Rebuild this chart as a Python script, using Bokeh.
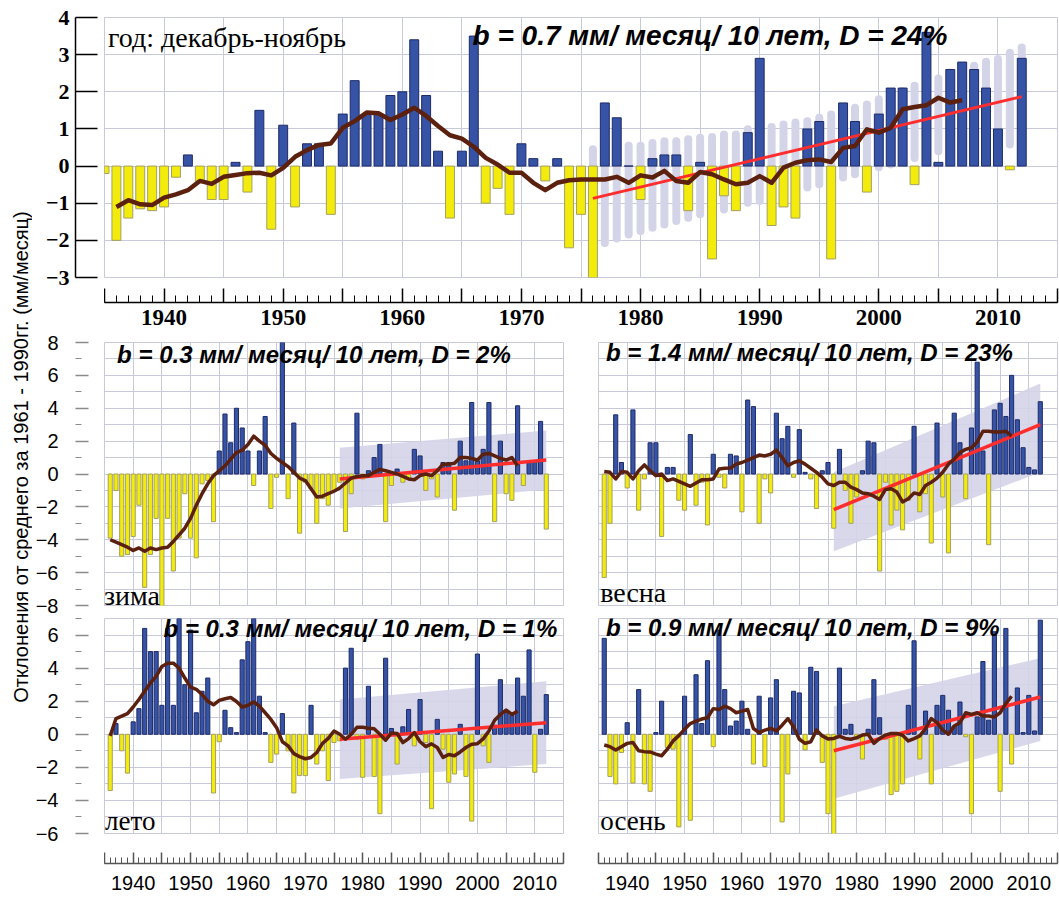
import math
from bokeh.plotting import figure
from bokeh.models import Range1d, FixedTicker, Label, Grid
from bokeh.layouts import row, column
from bokeh.embed import file_html
from bokeh.resources import INLINE
from bokeh.core.properties import value

# ---------------- data ----------------
years_annual = list(range(1935, 2013))
years_season = list(range(1936, 2013))
years_mean = list(range(1936, 2008))
years_trend = [1976, 2012]
years_band_annual = list(range(1976, 2013))
years_band_season = [1976, 2012]

annual = [-0.2, -2.0, -1.4, -1.15, -1.2, -1.1, -0.3, 0.3, -0.4, -0.9,
          -0.9, 0.1, -0.7, 1.5, -1.7, 1.1, -1.1, 0.6, 0.6, -1.3,
          1.4, 2.3, 1.4, 1.4, 1.9, 2.0, 3.4, 1.9, 0.4, -1.4,
          0.4, 3.5, -1.0, -0.6, -1.3, 0.6, 0.2, -0.4, 0.2, -2.2,
          -1.3, -3.0, 1.7, 1.3, 0.0, -0.9, 0.2, 0.3, 0.3, -1.2,
          0.1, -2.5, -0.8, -1.2, 0.9, 2.9, -1.6, -1.1, -1.4, 1.0,
          1.2, -2.5, 1.7, 1.2, -0.7, 1.4, 2.1, 2.1, -0.5, 3.6,
          0.1, 2.6, 2.8, 2.6, 2.1, 1.0, -0.1, 2.9]
annual_mean = [-1.1, -0.92, -1.03, -1.05, -0.85, -0.76, -0.65, -0.4, -0.48, -0.29,
               -0.24, -0.19, -0.18, -0.25, -0.05, 0.25, 0.43, 0.57, 0.61, 1.03,
               1.21, 1.44, 1.42, 1.24, 1.39, 1.57, 1.35, 1.08, 0.83, 0.74,
               0.52, 0.22, 0.04, -0.18, -0.18, -0.45, -0.65, -0.45, -0.38, -0.36,
               -0.36, -0.36, -0.29, -0.45, -0.25, -0.31, -0.13, -0.4, -0.45, -0.16,
               -0.22, -0.36, -0.49, -0.45, -0.27, -0.45, -0.04, 0.09, 0.16, 0.18,
               0.11, 0.49, 0.54, 0.99, 0.9, 1.03, 1.53, 1.59, 1.64, 1.84,
               1.71, 1.77]
annual_trend = [-0.87, 1.87]
annual_band_lo = [-2.02, -2.07, -1.95, -1.84, -1.75, -1.66, -1.57, -1.48, -1.39, -1.3,
                  -1.21, -1.17, -1.1, -0.99, -0.94, -0.85, -0.76, -0.66, -0.58, -0.49,
                  -0.4, -0.31, -0.22, -0.12, -0.03, 0.04, 0.13, 0.22, 0.31, 0.4,
                  0.49, 0.58, 0.63, 0.67, 0.63, 0.58, 0.5]
annual_band_hi = [0.45, 0.55, 0.6, 0.55, 0.55, 0.62, 0.67, 0.67, 0.72, 0.76,
                  0.78, 0.85, 0.85, 0.99, 1.03, 1.05, 1.12, 1.17, 1.21, 1.3,
                  1.39, 1.44, 1.57, 1.66, 1.8, 1.89, 2.02, 2.16, 2.25, 2.36,
                  2.52, 2.61, 2.7, 2.81, 2.88, 3.05, 3.19]

winter = [-3.9, -1.0, -5.0, -4.9, -3.8, -1.9, -6.9, -4.9, -2.7, -9.7,
          -2.7, -5.9, -3.9, -1.2, -3.9, -5.1, -0.6, -0.4, -2.9, 1.4,
          3.65, 1.9, 4.0, 2.8, 1.4, -0.7, 1.4, 3.5, -2.1, -0.2,
          8.4, -1.5, 3.1, -3.6, -0.5, -0.9, -3.0, -1.5, -1.9, -1.0,
          -0.5, -3.5, -1.2, 3.7, -0.3, 0.2, 1.0, 1.8, -2.9, -0.7,
          0.3, -0.5, -0.3, 1.5, 1.1, -1.0, -0.3, -1.4, 0.7, 0.7,
          -2.2, 2.0, 0.8, 4.35, 0.8, 1.5, 4.35, -2.9, 2.0, -1.2,
          -1.6, 4.15, -0.7, 0.8, 0.8, 3.2, -3.35]
winter_mean = [-4.0, -4.15, -4.3, -4.45, -4.65, -4.5, -4.7, -4.5, -4.6, -4.5,
               -4.45, -4.1, -3.7, -3.3, -2.7, -1.9, -1.2, -0.6, -0.1, 0.2,
               0.5, 0.9, 1.3, 1.45, 1.8, 2.3, 2.0, 1.75, 1.25, 0.95,
               0.7, 0.45, 0.1, -0.25, -0.4, -0.9, -1.4, -1.35, -1.2, -1.05,
               -0.85, -0.55, -0.25, -0.15, -0.1, -0.1, 0.1, 0.28, 0.2, 0.1,
               0.0, -0.15, -0.3, -0.35, -0.1, 0.0, -0.1, 0.2, 0.6, 0.6,
               0.65, 1.0, 1.0, 0.95, 0.85, 1.2, 1.25, 1.1, 0.95, 0.85,
               1.0, 0.5]
winter_trend = [-0.3, 0.85]
winter_band_lo = [-2.1, -0.95]
winter_band_hi = [1.6, 2.65]

spring = [-6.3, -3.0, 3.6, 0.7, -0.85, 3.9, -2.2, -0.3, 1.9, 1.9,
          -3.8, 0.4, 0.4, -1.6, -2.2, 2.4, -1.9, -0.5, -3.1, 1.2,
          -0.2, -0.85, 1.2, 1.1, -2.3, 4.5, 4.1, -3.0, -0.3, -1.15,
          3.7, 2.15, 2.9, -0.2, 2.7, 0.1, -0.3, -2.1, 0.2, 0.7,
          -3.3, 1.5, -1.0, -3.0, -1.4, 0.2, 2.0, 1.9, -5.9, -0.5,
          -3.1, -2.2, -3.4, -1.6, 2.9, -2.3, -1.2, -4.2, 3.1, -1.4,
          -4.8, 3.7, 1.9, -1.5, 2.8, 6.8, 1.4, -4.3, 3.9, 4.3,
          3.5, 6.0, 3.3, 1.6, 0.4, 0.25, 4.4]
spring_mean = [0.15, 0.1, -0.3, 0.15, 0.1, -0.3, 0.2, 0.55, 0.2, -0.1,
               0.0, -0.4, -0.3, -0.45, -0.6, -0.75, -0.55, -0.35, -0.35, -0.3,
               0.3, 0.35, 0.36, 0.6, 0.7, 0.85, 1.0, 1.15, 1.1, 1.2,
               1.45, 1.0, 0.5, 0.7, 0.8, 0.6, 0.35, 0.1, -0.2, -0.6,
               -0.7, -0.5, -0.5, -0.8, -0.95, -1.15, -1.2, -1.35, -1.55, -0.95,
               -0.9, -1.1, -1.7, -1.5, -1.15, -1.25, -0.7, -0.5, -0.25, 0.1,
               0.6, 0.9, 1.3, 1.5, 1.6, 1.95, 2.6, 2.6, 2.55, 2.55,
               2.6, 2.3]
spring_trend = [-2.17, 3.0]
spring_band_lo = [-4.7, 0.1]
spring_band_hi = [0.1, 5.5]

summer = [-3.4, 0.65, -1.0, -2.35, 0.75, 1.55, 6.4, 5.0, 5.0, 1.75,
          6.4, 1.75, 7.7, 3.0, 6.3, 1.3, 2.6, 3.4, -3.55, -0.45,
          1.45, 0.4, 0.1, 4.5, 5.6, 7.9, 2.3, 0.1, -1.7, -1.2,
          1.25, -1.0, -3.55, -2.5, -2.5, 1.75, -1.8, -1.0, -2.8, -0.5,
          -0.4, 4.0, 5.2, -0.3, -2.6, 2.9, -2.55, -4.8, 4.6, 0.35,
          -1.8, 0.45, 1.5, -0.7, 2.1, -0.5, -4.5, 0.9, -0.9, -2.9,
          -2.4, 0.6, -2.55, -5.25, 4.85, -0.7, -1.7, 0.55, 3.3, 1.45,
          1.15, 3.4, 2.3, 5.1, -2.3, 0.3, 2.4]
summer_mean = [-0.1, 0.95, 1.1, 1.25, 1.65, 2.1, 2.6, 3.1, 3.5, 4.1,
               4.3, 4.3, 4.0, 3.4, 2.85, 2.72, 2.4, 2.0, 1.78, 2.05,
               2.15, 2.22, 1.98, 1.65, 1.75, 1.95, 1.7, 1.3, 0.9, 0.4,
               -0.45, -0.7, -1.17, -1.35, -1.48, -1.4, -1.1, -0.55, -0.25, 0.2,
               0.0, -0.3, 0.0, 0.42, 0.42, 0.36, 0.34, 0.0, -0.36, 0.08,
               0.05, -0.5, -0.26, 0.1, -0.45, -0.75, -0.58, -0.8, -1.4, -1.22,
               -1.3, -1.07, -0.8, -0.6, -0.57, -0.28, 0.2, 0.85, 1.2, 1.46,
               1.2, 1.4]
summer_trend = [-0.3, 0.7]
summer_band_lo = [-2.7, -1.8]
summer_band_hi = [2.1, 3.2]

autumn = [5.8, -2.55, -3.0, -1.1, 0.7, -2.95, 2.7, -3.0, -3.45, 0.1,
          2.0, -0.8, -0.9, -5.6, 2.3, -5.2, 3.6, 0.65, 4.45, -0.75,
          6.3, 2.7, 0.5, 0.8, 2.0, 0.3, -1.8, 2.3, -1.95, 2.2,
          3.3, -5.3, -2.4, 2.6, 2.5, -0.95, 4.05, 3.8, -1.7, -4.8,
          -6.7, 4.0, 0.3, 0.6, -0.3, -1.5, 0.3, 3.3, 1.0, -0.3,
          -3.65, -3.45, -3.0, 1.75, 5.65, -1.5, 1.4, -3.0, 1.75, 2.35,
          1.45, 0.5, 1.95, -0.15, -4.8, 1.05, 4.4, 0.85, 6.2, -3.45,
          6.4, -1.8, 2.8, 0.1, 2.35, 0.2, 6.9]
autumn_mean = [-0.65, -0.75, -0.95, -0.75, -0.55, -0.5, -1.0, -1.05, -1.07, -1.2,
               -1.3, -0.9, -0.4, -0.08, 0.3, 0.65, 0.8, 0.92, 1.0, 1.55,
               1.5, 1.7, 1.55, 1.3, 1.4, 1.5, 0.35, 0.1, 0.25, 0.35,
               0.2, 0.55, 0.95, 0.45, -0.3, -0.55, -0.45, 0.25, -0.1, -0.28,
               -0.25, -0.12, -0.25, -0.3, -0.2, -0.05, 0.0, -0.55, -0.25, -0.05,
               0.05, 0.05, -0.06, -0.4, -0.26, -0.1, 0.35, 0.95, 0.7, 0.25,
               0.0, 0.5, 0.7, 1.3, 1.2, 1.3, 1.1, 1.1, 1.05, 1.3,
               1.85, 2.3]
autumn_trend = [-1.0, 2.25]
autumn_band_lo = [-3.9, -0.4]
autumn_band_hi = [1.7, 4.6]

y_title = "Отклонения от среднего за 1961 - 1990гг. (мм/месяц)"
annual_note = "b = 0.7 мм/ месяц/ 10 лет, D = 24%"
winter_note = "b = 0.3 мм/ месяц/ 10 лет, D = 2%"
spring_note = "b = 1.4 мм/ месяц/ 10 лет, D = 23%"
summer_note = "b = 0.3 мм/ месяц/ 10 лет, D = 1%"
autumn_note = "b = 0.9 мм/ месяц/ 10 лет, D = 9%"

# ---------------- style ----------------
BLUE = "#3653a5"
BLUE_EDGE = "#1d2b68"
YELLOW = "#f3eb0c"
YELLOW_EDGE = "#a3a064"
BROWN = "#5b200e"
RED = "#ff2d2d"
GRID = "#c9c9dc"
BAND = "#d4d4e8"
SANS = "Liberation Sans"
SERIF = "Liberation Serif"
X0, X1 = 1935, 2015


def base_fig(width, height, bl, br, bt, bb, yr, xaxis=None, yaxis=None):
    p = figure(width=width, height=height, x_range=Range1d(X0, X1), y_range=Range1d(*yr),
               x_axis_location=xaxis, y_axis_location=yaxis, toolbar_location=None,
               output_backend="svg", min_border_left=bl, min_border_right=br,
               min_border_top=bt, min_border_bottom=bb)
    p.grid.visible = False
    p.background_fill_color = "white"
    p.border_fill_color = "white"
    return p


def panel(width, height, bl, br, bt, bb, yr, years, vals, bar_w, mean, trend,
          band_x, band_lo, band_hi, capsules, mean_w, trend_w):
    p = base_fig(width, height, bl, br, bt, bb, yr)
    p.outline_line_color = GRID
    p.add_layout(Grid(dimension=0, ticker=FixedTicker(ticks=list(range(X0, X1 + 1, 5))),
                      grid_line_color=GRID, grid_line_width=1))
    p.add_layout(Grid(dimension=1, ticker=FixedTicker(ticks=list(range(yr[0], yr[1] + 1))),
                      grid_line_color=GRID, grid_line_width=1))
    if capsules:
        p.segment(x0=band_x, y0=band_lo, x1=band_x, y1=band_hi, line_color=BAND,
                  line_width=8, line_cap="round")
    else:
        p.varea(x=band_x, y1=band_lo, y2=band_hi, fill_color=BAND, fill_alpha=0.9)
    fills = [BLUE if v >= 0 else YELLOW for v in vals]
    edges = [BLUE_EDGE if v >= 0 else YELLOW_EDGE for v in vals]
    p.vbar(x=years, bottom=0, top=vals, width=bar_w, fill_color=fills,
           line_color=edges, line_width=1)
    p.line(years_trend, trend, line_color=RED, line_width=trend_w)
    p.line(years_mean, mean, line_color=BROWN, line_width=mean_w, line_join="round")
    return p


def note(p, x, y, text, size):
    p.add_layout(Label(x=x, y=y, text=text, text_font=SANS, text_font_style="bold italic",
                       text_font_size=size, text_baseline="middle", text_color="black"))


def season_label(p, x, y, text, size):
    p.add_layout(Label(x=x, y=y, text=text, text_font=SERIF, text_font_size=size,
                       text_baseline="middle", text_color="black"))


# ---- top (annual) ----  frame x 104..1057, y 17..277
top = panel(955, 280, 0, 2, 17, 3, (-3, 4), years_annual, annual, 0.75, annual_mean,
            annual_trend, years_band_annual, annual_band_lo, annual_band_hi, True, 4.5, 3)
top.add_layout(Label(x=1935.3, y=3.45, text="год: декабрь-ноябрь", text_font=SERIF,
                     text_font_size="28px", text_baseline="middle", text_color="black"))
note(top, 1965.9, 3.52, annual_note, "28px")

# ---- seasons ----
zima = panel(476, 275, 0, 17, 6, 6, (-8, 8), years_season, winter, 0.72, winter_mean,
             winter_trend, years_band_season, winter_band_lo, winter_band_hi, False, 3.5, 3.5)
note(zima, 1937.2, 7.3, winter_note, "24px")
season_label(zima, 1934.9, -7.4, "зима", "28px")

vesna = panel(479, 275, 18, 2, 6, 6, (-8, 8), years_season, spring, 0.72, spring_mean,
              spring_trend, years_band_season, spring_band_lo, spring_band_hi, False, 3.5, 3.5)
note(vesna, 1936.3, 7.4, spring_note, "24px")
season_label(vesna, 1935.3, -7.2, "весна", "28px")

leto = panel(476, 227, 0, 17, 7, 5, (-6, 7), years_season, summer, 0.72, summer_mean,
             summer_trend, years_band_season, summer_band_lo, summer_band_hi, False, 3.5, 3.5)
note(leto, 1945.3, 6.4, summer_note, "24px")
season_label(leto, 1935.1, -5.27, "лето", "27px")

osen = panel(479, 227, 18, 2, 7, 5, (-6, 7), years_season, autumn, 0.72, autumn_mean,
             autumn_trend, years_band_season, autumn_band_lo, autumn_band_hi, False, 3.5, 3.5)
note(osen, 1936.3, 6.45, autumn_note, "24px")
season_label(osen, 1935.3, -5.27, "осень", "27px")


# ---- y axis strips ----
def ystrip(height, bl, bt, bb, yr, ticks, minor, tick_in, minor_in, standoff, font, style,
           size, color, line_color):
    p = figure(width=72, height=height, x_range=Range1d(0, 1), y_range=Range1d(*yr),
               x_axis_location=None, y_axis_location="left", toolbar_location=None,
               output_backend="svg", min_border_left=bl, min_border_right=0,
               min_border_top=bt, min_border_bottom=bb)
    p.grid.visible = False
    p.outline_line_color = None
    ax = p.yaxis[0]
    ax.ticker = FixedTicker(ticks=ticks, minor_ticks=minor)
    ax.axis_line_color = line_color
    ax.axis_line_width = 1.5
    ax.major_tick_in = tick_in
    ax.major_tick_out = 0
    ax.minor_tick_in = minor_in
    ax.minor_tick_out = 0
    ax.major_tick_line_color = color
    ax.minor_tick_line_color = color
    ax.major_tick_line_width = 1.5
    ax.major_label_standoff = standoff
    ax.major_label_text_font = font
    ax.major_label_text_font_style = style
    ax.major_label_text_font_size = size
    ax.major_label_text_color = "black"
    return p


# strip column x 32..104 ; heights 318 + 300 + 280 = 898
ytop = ystrip(318, 36, 17, 41, (-3, 4), list(range(-3, 5)), [], 22, 0, 6, SERIF, "bold",
              "22px", "black", "black")
yz = ystrip(300, 38, 24, 13, (-8, 8), list(range(-8, 9, 2)), list(range(-7, 8, 2)), 13, 6, 17,
            SANS, "normal", "20px", "#8a8a8a", None)
yl = ystrip(280, 38, 0, 65, (-6, 7), list(range(-6, 7, 2)), list(range(-5, 8, 2)), 13, 6, 17,
            SANS, "normal", "20px", "#8a8a8a", None)


# ---- x axis strips ----
def xstrip(width, height, bl, br, bt, bb, tick_in, minor_in, font, style, size, standoff, color):
    p = figure(width=width, height=height, x_range=Range1d(X0, X1), y_range=Range1d(0, 1),
               x_axis_location="below", y_axis_location=None, toolbar_location=None,
               output_backend="svg", min_border_left=bl, min_border_right=br,
               min_border_top=bt, min_border_bottom=bb)
    p.grid.visible = False
    p.outline_line_color = None
    ax = p.xaxis[0]
    ax.ticker = FixedTicker(ticks=list(range(X0, X1 + 1, 5)), minor_ticks=list(range(X0, X1 + 1)))
    ax.major_label_overrides = {t: "" for t in range(X0, X1 + 1, 10)}
    ax.axis_line_color = color
    ax.axis_line_width = 1.5
    ax.major_tick_in = tick_in
    ax.major_tick_out = 0
    ax.minor_tick_in = minor_in
    ax.minor_tick_out = 0
    ax.major_tick_line_color = color
    ax.minor_tick_line_color = color
    ax.major_tick_line_width = 1.5
    ax.major_label_standoff = standoff
    ax.major_label_text_font = font
    ax.major_label_text_font_style = style
    ax.major_label_text_font_size = size
    ax.major_label_text_color = "black"
    return p


xtop = xstrip(955, 56, 0, 2, 8, 34, 14, 7, SERIF, "bold", "23px", 7, "black")
xl1 = xstrip(476, 60, 0, 17, 13, 35, 11, 6, SANS, "normal", "20px", 12, "#555555")
xl2 = xstrip(479, 60, 18, 2, 13, 35, 11, 6, SANS, "normal", "20px", 12, "#555555")

# ---- y title ----
tfig = figure(width=32, height=898, x_range=Range1d(0, 32), y_range=Range1d(0, 898),
              x_axis_location=None, y_axis_location=None, toolbar_location=None,
              output_backend="svg", min_border=0)
tfig.grid.visible = False
tfig.outline_line_color = None
tfig.text(x=[20.5], y=[441.5], text=[y_title], angle=math.pi / 2, text_align="center",
          text_baseline="middle", text_font=value(SANS), text_font_size="20px",
          text_color="black")

strips = column(ytop, yz, yl)
panels = column(
    top,
    xtop,
    row(column(zima, leto), column(vesna, osen)),
    row(xl1, xl2),
)
layout = row(tfig, strips, panels)

open("out.html", "w").write(file_html(layout, INLINE))
